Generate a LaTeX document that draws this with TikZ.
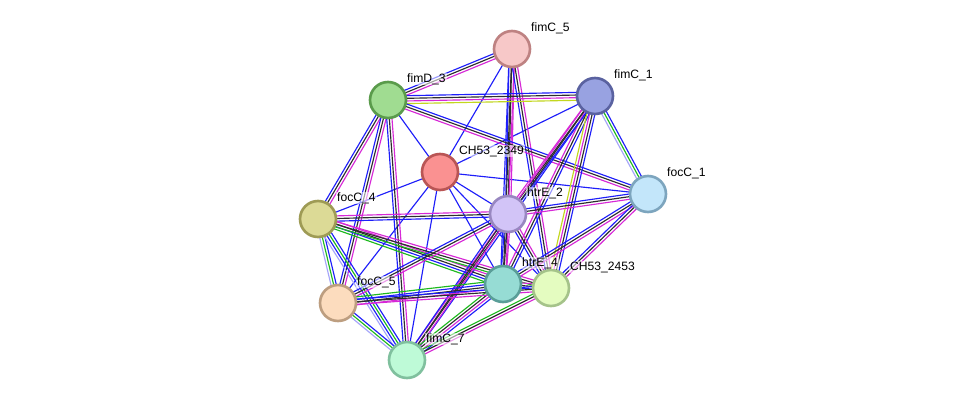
\documentclass[tikz,border=0pt]{standalone}
\usepackage{fontspec}
\setmainfont{Liberation Sans}
\usetikzlibrary{calc}
\pgfdeclarelayer{bg}
\pgfsetlayers{bg,main}
\definecolor{cooc}{RGB}{30,30,250}
\definecolor{expt}{RGB}{215,40,215}
\definecolor{coex}{RGB}{45,45,45}
\definecolor{txtm}{RGB}{195,215,30}
\definecolor{nbhd}{RGB}{30,185,30}
\definecolor{homo}{RGB}{165,165,250}
\definecolor{p5}{RGB}{247,200,200}\definecolor{b5}{RGB}{190,130,130}
\definecolor{pd}{RGB}{160,220,145}\definecolor{bd}{RGB}{90,155,75}
\definecolor{p1}{RGB}{152,162,225}\definecolor{b1}{RGB}{90,98,160}
\definecolor{px}{RGB}{250,145,145}\definecolor{bx}{RGB}{185,85,85}
\definecolor{pf}{RGB}{195,230,250}\definecolor{bf}{RGB}{125,165,190}
\definecolor{p4}{RGB}{220,218,150}\definecolor{b4}{RGB}{158,155,85}
\definecolor{pe}{RGB}{210,196,247}\definecolor{be}{RGB}{152,135,192}
\definecolor{ph}{RGB}{150,220,212}\definecolor{bh}{RGB}{90,158,152}
\definecolor{py}{RGB}{228,252,192}\definecolor{by}{RGB}{165,195,138}
\definecolor{pc}{RGB}{252,220,190}\definecolor{bc}{RGB}{189,158,128}
\definecolor{pm}{RGB}{190,250,215}\definecolor{bm}{RGB}{128,192,158}
\newcommand{\evlink}[3]{%
  \foreach \c [count=\n] in {#3}{\xdef\nlines{\n}}%
  \foreach \c [count=\n] in {#3}{%
    \pgfmathsetmacro\off{(\n-(\nlines+1)/2)*1.5}%
    \draw[color=\c,line width=0.65pt] ($(#1)!\off pt!90:(#2)$) -- ($(#2)!\off pt!-90:(#1)$);}%
}

\begin{document}
\begin{tikzpicture}[x=0.02cm,y=-0.02cm,
  prot/.style 2 args={circle,fill=#1,draw=#2,line width=1.5pt,minimum size=0.72cm,inner sep=0pt},
  lbl/.style={anchor=west,font=\fontsize{6.9}{8}\selectfont,inner sep=0.5pt,fill=white,fill opacity=0.55,text opacity=1}]
\useasboundingbox (0,0) rectangle (975,406);
\node[prot={p5}{b5}] (fimC5) at (512,49) {};
\node[prot={pd}{bd}] (fimD3) at (388,100) {};
\node[prot={p1}{b1}] (fimC1) at (595,96) {};
\node[prot={px}{bx}] (CH2349) at (440,172) {};
\node[prot={pf}{bf}] (focC1) at (648,194) {};
\node[prot={p4}{b4}] (focC4) at (318,219) {};
\node[prot={pe}{be}] (htrE2) at (508,214) {};
\node[prot={ph}{bh}] (htrE4) at (503,284) {};
\node[prot={py}{by}] (CH2453) at (551,288) {};
\node[prot={pc}{bc}] (focC5) at (338,303) {};
\node[prot={pm}{bm}] (fimC7) at (407,360) {};

\begin{pgfonlayer}{bg}
\fill[white] (0,0) rectangle (975,406);
\foreach \t in {fimC5,fimD3,fimC1,focC1,focC4,htrE2,htrE4,CH2453,focC5,fimC7}
  {\evlink{CH2349}{\t}{cooc}}
\evlink{fimC5}{fimD3}{cooc,coex,expt}
\evlink{fimC5}{htrE2}{cooc,coex,expt}
\evlink{fimC5}{htrE4}{cooc,coex,expt}
\evlink{fimC5}{CH2453}{cooc,coex,expt}
\evlink{fimD3}{fimC1}{txtm,expt,coex,cooc}
\evlink{fimD3}{focC1}{expt,coex,cooc}
\evlink{fimD3}{focC4}{cooc,coex,expt}
\evlink{fimD3}{focC5}{cooc,coex,expt}
\evlink{fimD3}{fimC7}{cooc,coex,expt}
\evlink{fimC1}{focC1}{homo,nbhd,cooc}
\evlink{fimC1}{htrE2}{expt,coex,cooc}
\evlink{fimC1}{htrE4}{expt,coex,cooc}
\evlink{fimC1}{CH2453}{txtm,expt,coex,cooc}
\evlink{fimC1}{fimC7}{expt,coex,cooc}
\evlink{focC1}{htrE2}{cooc,coex,expt}
\evlink{focC1}{htrE4}{cooc,coex,expt}
\evlink{focC1}{CH2453}{cooc,coex,expt}
\evlink{focC4}{htrE2}{cooc,coex,expt}
\evlink{focC4}{htrE4}{nbhd,cooc,coex,expt}
\evlink{focC4}{CH2453}{nbhd,coex,expt}
\evlink{focC4}{focC5}{homo,nbhd,cooc}
\evlink{focC4}{fimC7}{homo,cooc,nbhd,cooc}
\evlink{htrE2}{htrE4}{cooc,coex,expt}
\evlink{htrE2}{CH2453}{cooc,coex,expt}
\evlink{htrE2}{focC5}{cooc,coex,expt}
\evlink{htrE2}{fimC7}{cooc,coex,expt}
\evlink{htrE4}{CH2453}{cooc,coex,expt}
\evlink{htrE4}{focC5}{nbhd,cooc,coex,expt}
\evlink{htrE4}{fimC7}{nbhd,coex,expt,cooc}
\evlink{CH2453}{focC5}{cooc,coex,expt}
\evlink{CH2453}{fimC7}{nbhd,coex,expt}
\evlink{focC5}{fimC7}{homo,nbhd,cooc}
\end{pgfonlayer}

\node[lbl] (t5) at ([shift={(18,-21)}]fimC5.center) {fimC\_5};
\node[lbl] (td) at ([shift={(18,-21)}]fimD3.center) {fimD\_3};
\node[lbl] (t1) at ([shift={(18,-21)}]fimC1.center) {fimC\_1};
\node[lbl] (tx) at ([shift={(18,-21)}]CH2349.center) {CH53\_2349};
\node[lbl] (tf) at ([shift={(18,-21)}]focC1.center) {focC\_1};
\node[lbl] (t4) at ([shift={(18,-21)}]focC4.center) {focC\_4};
\node[lbl] (te) at ([shift={(18,-21)}]htrE2.center) {htrE\_2};
\node[lbl] (th) at ([shift={(18,-21)}]htrE4.center) {htrE\_4};
\node[lbl] (ty) at ([shift={(18,-21)}]CH2453.center) {CH53\_2453};
\node[lbl] (tc) at ([shift={(18,-21)}]focC5.center) {focC\_5};
\node[lbl] (tm) at ([shift={(18,-21)}]fimC7.center) {fimC\_7};
\end{tikzpicture}
\end{document}
